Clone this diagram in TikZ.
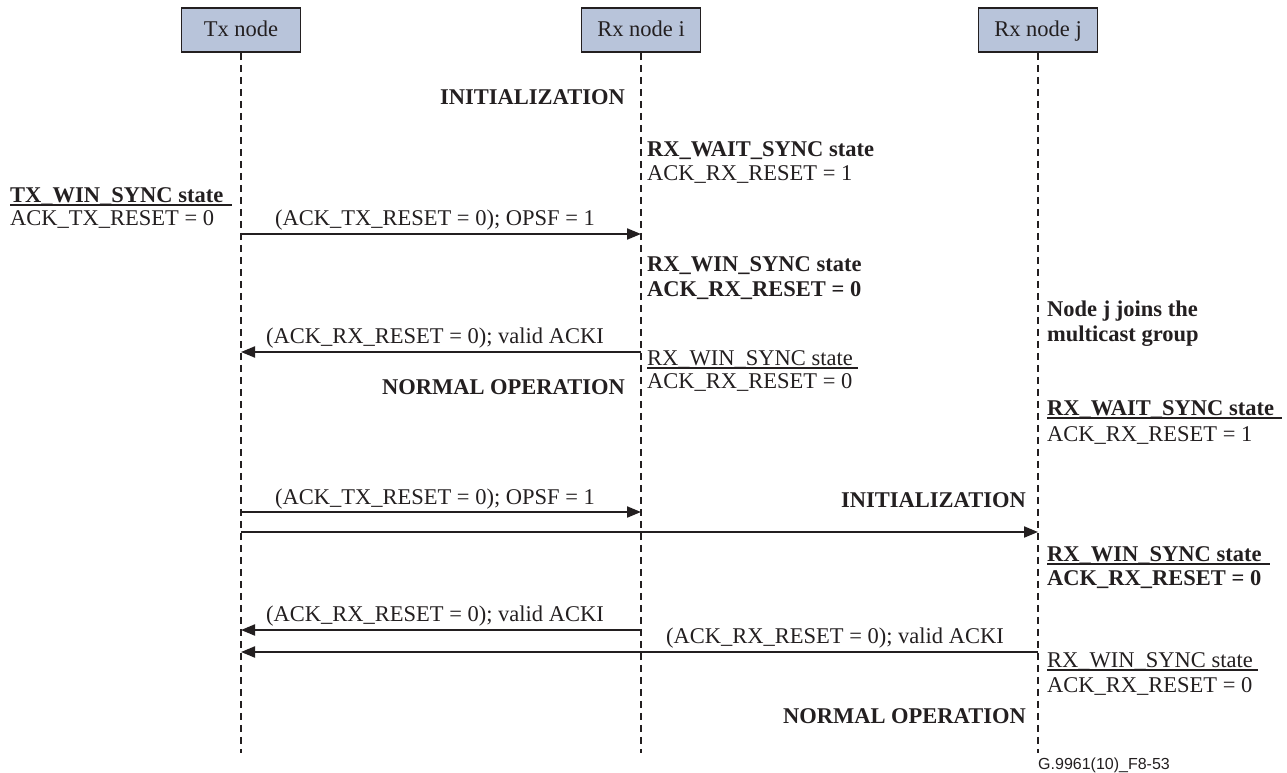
\documentclass[tikz,border=0pt]{standalone}
\usepackage{fontspec}
\setmainfont{Liberation Serif}
\newfontfamily\figsans{Liberation Sans}
\usetikzlibrary{arrows.meta,calc}
\definecolor{ink}{HTML}{231F20}
\definecolor{boxfill}{RGB}{184,196,218}
\tikzset{
  txt/.style={font=\fontsize{22.5}{24}\selectfont, inner sep=0pt, text=ink},
  lbl/.style={txt, anchor=base west},
  bl/.style={txt, anchor=base west, font=\fontsize{22.5}{24}\selectfont\bfseries},
  blr/.style={txt, anchor=base east, font=\fontsize{22.5}{24}\selectfont\bfseries},
  mlbl/.style={txt, anchor=base},
  actor/.style={draw=ink, line width=1.8pt, fill=boxfill, minimum width=119pt, minimum height=44pt, txt, text height=16pt, text depth=2pt},
  life/.style={draw=ink, line width=1.4pt, dash pattern=on 7pt off 5pt},
  msg/.style={draw=ink, line width=2pt, -{Triangle[length=14pt,width=11pt]}},
  ul/.style={draw=ink, line width=1.6pt},
}
\begin{document}
\begin{tikzpicture}[x=1pt,y=-1pt]
\useasboundingbox (0,0) rectangle (1287,773);

% actors
\node[actor] (tx)  at (241,30) {Tx node};
\node[actor] (rxi) at (641,30) {Rx node i};
\node[actor] (rxj) at (1038,30) {Rx node j};

% lifeline ends
\coordinate (txend)  at (241,753);
\coordinate (rxiend) at (641,753);
\coordinate (rxjend) at (1038,753);
\draw[life] (tx.south) -- (txend);
\draw[life] (rxi.south) -- (rxiend);
\draw[life] (rxj.south) -- (rxjend);

% phase labels
\node[blr] (init1) at (625,105) {INITIALIZATION};
\node[blr] (norm1) at (625,394) {NORMAL OPERATION};
\node[blr] (init2) at (1026,507) {INITIALIZATION};
\node[blr] (norm2) at (1026,723) {NORMAL OPERATION};

% Rx node i states
\node[bl]  (ri1) at (647,156) {RX\_WAIT\_SYNC state};
\node[lbl] (ri2) at (647,180) {ACK\_RX\_RESET = 1};
\node[bl]  (ri3) at (647,271) {RX\_WIN\_SYNC state};
\node[bl]  (ri4) at (647,296) {ACK\_RX\_RESET = 0};
\node[lbl] (ri5) at (647,365) {RX\_WIN\_SYNC state};
\node[lbl] (ri6) at (647,388) {ACK\_RX\_RESET = 0};
\draw[ul] ($(ri5.base west)+(0,3)$) -- ($(ri5.base east)+(5,3)$);

% Tx node state
\node[bl]  (t1) at (10,202) {TX\_WIN\_SYNC state};
\node[lbl] (t2) at (10,225) {ACK\_TX\_RESET = 0};
\draw[ul] ($(t1.base west)+(0,3)$) -- ($(t1.base east)+(8,3)$);

% Rx node j
\node[bl] (j0) at (1047,316) {Node j joins the};
\node[bl] (j1) at (1047,341) {multicast group};
\node[bl]  (j2) at (1047,415) {RX\_WAIT\_SYNC state};
\node[lbl] (j3) at (1047,441) {ACK\_RX\_RESET = 1};
\draw[ul] ($(j2.base west)+(0,3)$) -- ($(j2.base east)+(8,3)$);
\node[bl]  (j4) at (1047,561) {RX\_WIN\_SYNC state};
\node[bl]  (j5) at (1047,585) {ACK\_RX\_RESET = 0};
\draw[ul] ($(j4.base west)+(0,3)$) -- ($(j4.base east)+(8,3)$);
\node[lbl] (j6) at (1047,667) {RX\_WIN\_SYNC state};
\node[lbl] (j7) at (1047,692) {ACK\_RX\_RESET = 0};
\draw[ul] ($(j6.base west)+(0,3)$) -- ($(j6.base east)+(5,3)$);

% message points
\coordinate (m1s) at (241,234);  \coordinate (m1e) at (641,234);
\coordinate (m2s) at (641,352);  \coordinate (m2e) at (241,352);
\coordinate (m3s) at (241,512);  \coordinate (m3e) at (641,512);
\coordinate (m4s) at (241,532);  \coordinate (m4e) at (1038,532);
\coordinate (m5s) at (641,630);  \coordinate (m5e) at (241,630);
\coordinate (m6s) at (1038,652); \coordinate (m6e) at (241,652);

\draw[msg] (m1s) -- (m1e);
\draw[msg] (m2s) -- (m2e);
\draw[msg] (m3s) -- (m3e);
\draw[msg] (m4s) -- (m4e);
\draw[msg] (m5s) -- (m5e);
\draw[msg] (m6s) -- (m6e);

\node[mlbl] (l1) at (435,225) {(ACK\_TX\_RESET = 0); OPSF = 1};
\node[mlbl] (l2) at (435,343) {(ACK\_RX\_RESET = 0); valid ACKI};
\node[mlbl] (l3) at (435,504) {(ACK\_TX\_RESET = 0); OPSF = 1};
\node[mlbl] (l5) at (435,621) {(ACK\_RX\_RESET = 0); valid ACKI};
\node[mlbl] (l6) at (835,643) {(ACK\_RX\_RESET = 0); valid ACKI};

% figure id
\node[anchor=base west, inner sep=0pt, text=ink, font=\figsans\fontsize{16}{18}\selectfont] (fid) at (1038,769) {G.9961(10)\_F8-53};
\end{tikzpicture}
\end{document}
